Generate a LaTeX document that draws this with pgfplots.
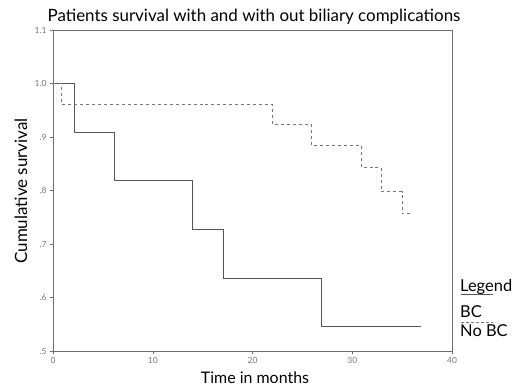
\documentclass[border=0pt]{standalone}
\usepackage{pgfplots}
\pgfplotsset{compat=1.18}
\usepackage{fontspec}
\setmainfont{Lato}
\definecolor{axisgray}{RGB}{110,110,110}
\definecolor{ticklab}{RGB}{120,120,120}
\definecolor{bcline}{RGB}{85,85,85}
\definecolor{nobcline}{RGB}{120,120,120}
\begin{document}
\begin{tikzpicture}[x=1bp,y=1bp]
\path[use as bounding box] (0,0) rectangle (516,386);
\begin{axis}[
  at={(53bp,35bp)}, anchor=south west,
  scale only axis, width=399bp, height=321bp,
  xmin=0, xmax=40, ymin=0.5, ymax=1.1,
  xtick={0,10,20,30,40},
  ytick={0.5,0.6,0.7,0.8,0.9,1.0,1.1},
  yticklabels={.5,.6,.7,.8,.9,1.0,1.1},
  tick align=outside, tick pos=left,
  major tick length=3bp,
  axis line style={axisgray, line width=0.8pt},
  every tick/.style={axisgray},
  tick label style={font=\fontsize{8.5}{9}\selectfont, text=ticklab},
  /pgf/number format/assume math mode=true,
  clip=false,
]
\addplot[const plot, bcline, line width=0.9pt] coordinates {
  (0,1.0) (2.2,0.909) (6.2,0.818) (14,0.727) (17.1,0.636) (26.9,0.545) (36.9,0.545)
};
\addplot[const plot, nobcline, line width=0.7pt, dash pattern=on 3pt off 3pt] coordinates {
  (0,1.0) (0.8,0.961) (22,0.923) (25.9,0.884) (30.9,0.843) (32.9,0.798) (35,0.757) (36,0.757)
};
\end{axis}
\node[font=\fontsize{17}{19}\selectfont, anchor=base] at (254,365) {Patients survival with and with out biliary complications};
\node[font=\fontsize{16}{18}\selectfont, anchor=base] at (255,3) {Time in months};
\node[font=\fontsize{17}{19}\selectfont, rotate=90, anchor=base] at (27,195) {Cumulative survival};
\node[font=\fontsize{16.5}{18}\selectfont, anchor=base west, inner sep=0pt] at (460,95) {Legend};
\draw[bcline, line width=0.9pt] (461,92) -- (493,92);
\node[font=\fontsize{16.5}{18}\selectfont, anchor=base west, inner sep=0pt] at (460,69) {BC};
\draw[nobcline, line width=0.6pt, dash pattern=on 3pt off 2pt] (461,64) -- (493,64);
\node[font=\fontsize{16.5}{18}\selectfont, anchor=base west, inner sep=0pt] at (460,50) {No BC};
\end{tikzpicture}
\end{document}
